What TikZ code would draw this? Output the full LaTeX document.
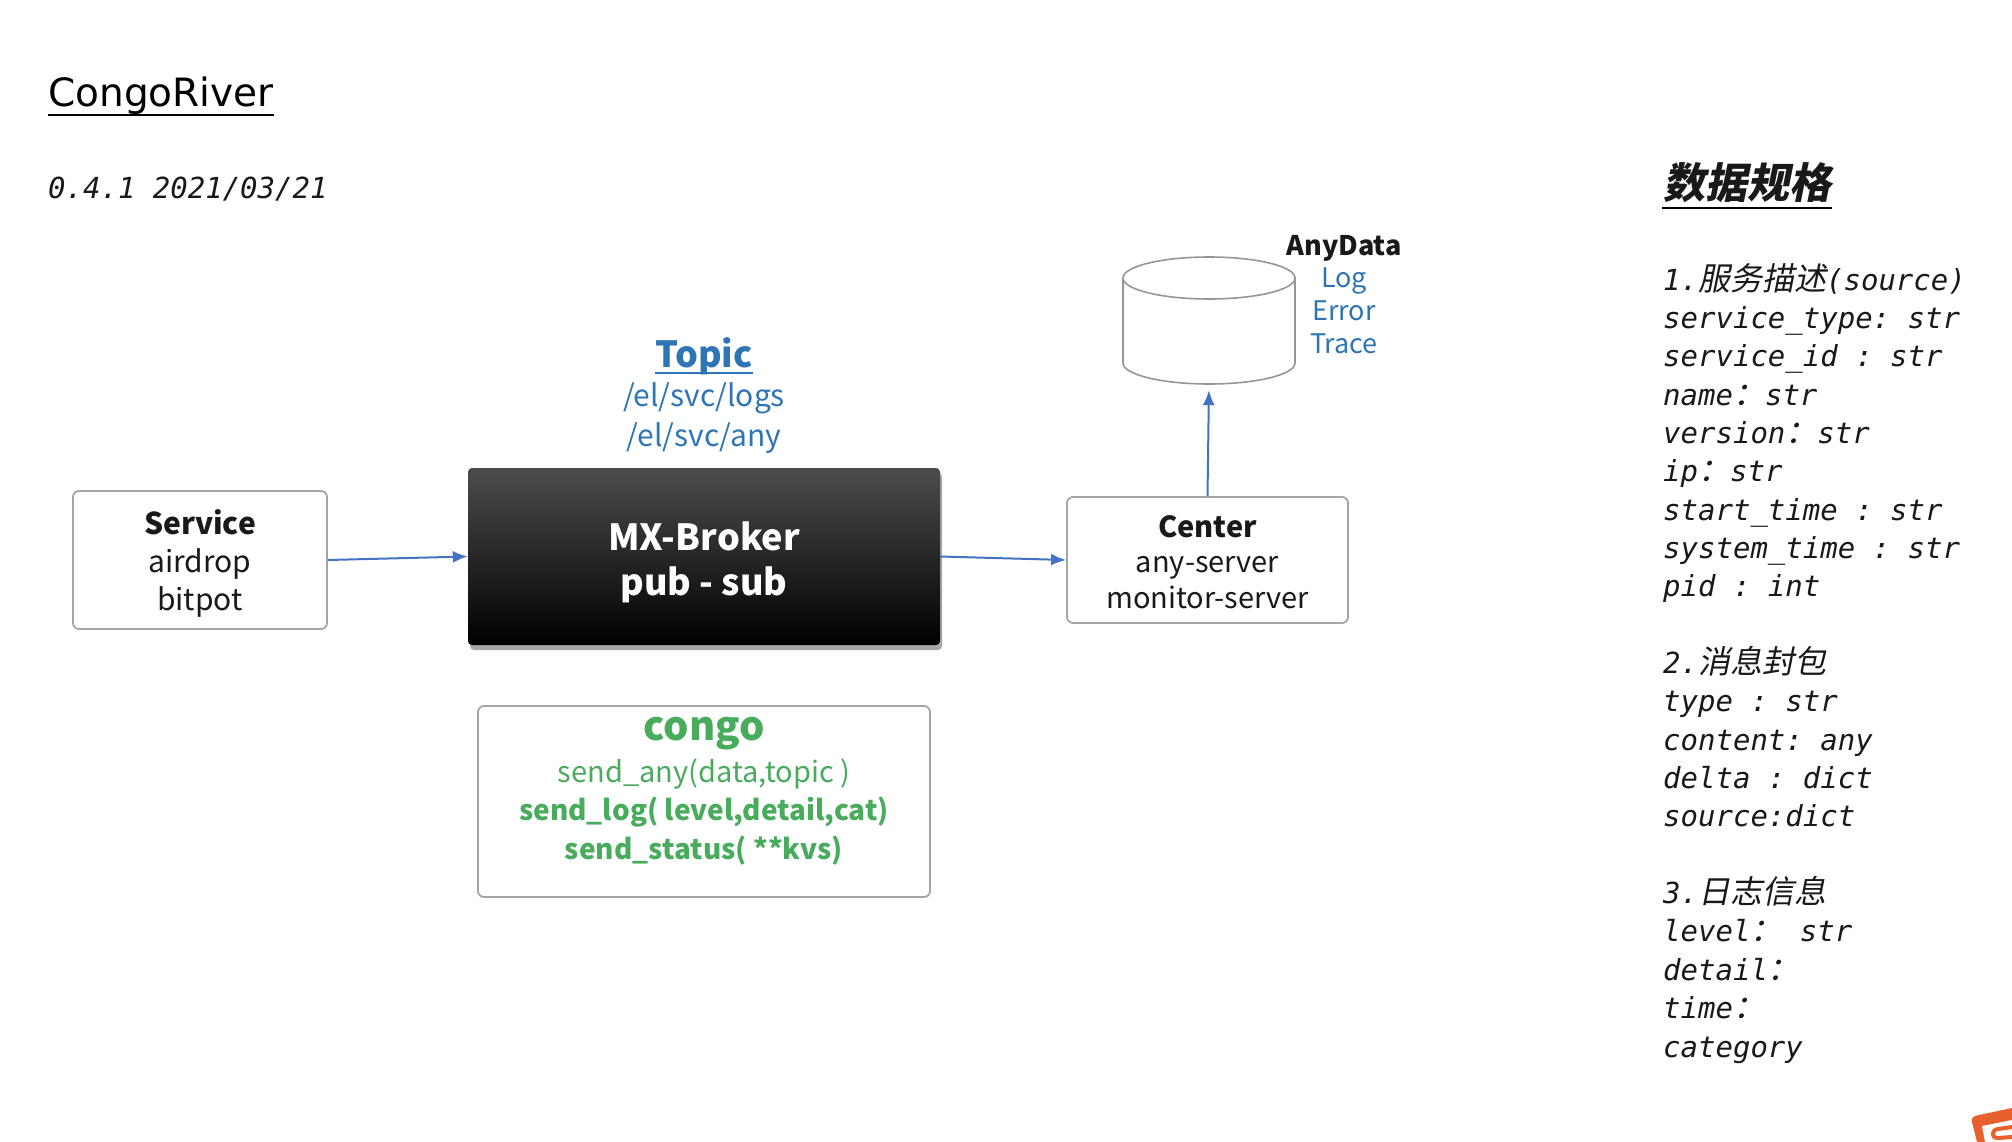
\documentclass[tikz,border=0pt]{standalone}
\usepackage{fontspec}
\setmainfont{Noto Sans CJK SC}
\setmonofont{DejaVu Sans Mono}
\newfontfamily\titlefont{DejaVu Sans}
\newfontfamily\uifont{Noto Sans CJK SC}
\newfontfamily\cjkit[FakeSlant=0.2]{Noto Sans CJK SC}
\usetikzlibrary{arrows.meta,shadows}
\definecolor{linkblue}{RGB}{68,114,196}
\definecolor{txtblue}{RGB}{46,117,182}
\definecolor{cgreen}{RGB}{72,172,92}
\definecolor{boxgray}{RGB}{165,165,165}
\definecolor{cylgray}{RGB}{150,150,150}
\definecolor{ink}{RGB}{25,25,25}
\definecolor{logoorange}{RGB}{232,96,44}
\newcommand{\zh}[1]{{\cjkit\fontsize{32}{38}\selectfont #1}}
\tikzset{
  box/.style={draw=boxgray, line width=1.8pt, rounded corners=6pt, fill=white,
    align=center, text=ink, inner sep=0},
  flow/.style={draw=linkblue, line width=2pt, -{Latex[length=15pt,width=12pt]}},
  spec/.style={anchor=base west, inner sep=0, text=ink,
    font=\ttfamily\itshape\fontsize{29}{35}\selectfont},
  lbl/.style={inner sep=0, anchor=base},
}
\begin{document}
\begin{tikzpicture}[x=1pt,y=-1pt]
\fill[white] (0,0) rectangle (2012,1142);
\useasboundingbox (0,0) rectangle (2012,1142);

% title and version
\node[anchor=base west, inner sep=0, font=\titlefont\fontsize{39}{46}\selectfont] (title) at (48,107) {CongoRiver};
\draw[line width=2pt] ([yshift=-8pt]title.base west) -- ([yshift=-8pt]title.base east);
\node[anchor=base west, inner sep=0, text=ink, font=\ttfamily\itshape\fontsize{29}{35}\selectfont] (version) at (48,198) {0.4.1 2021/03/21};

% boxes
\node[box, minimum width=254pt, minimum height=138pt] (service) at (200,560) {};
\node[align=center, text=ink, inner sep=0, font=\uifont\fontsize{30}{38}\selectfont]
  (servicetext) at (200,563) {{\bfseries Service}\\airdrop\\bitpot};
\node[draw=none, rounded corners=4pt, inner sep=0, minimum width=472pt, minimum height=177pt,
  top color=black!70, middle color=black, bottom color=black,
  drop shadow={shadow xshift=2pt, shadow yshift=-5pt, opacity=0.35, fill=black}]
  (broker) at (704,556.5) {};
\node[align=center, text=white, inner sep=0, font=\uifont\bfseries\fontsize{36}{45}\selectfont]
  (brokertext) at (704,562) {MX-Broker\\pub - sub};
\node[box, minimum width=281pt, minimum height=126pt] (center) at (1207.5,560) {};
\node[align=center, text=ink, inner sep=0, font=\uifont\fontsize{29}{35.5}\selectfont]
  (centertext) at (1207.5,562) {{\bfseries Center}\\any-server\\monitor-server};
\node[box, minimum width=452pt, minimum height=191pt] (congo) at (704,801.5) {};

% congo text
\node[lbl, text=cgreen, font=\uifont\bfseries\fontsize{40}{46}\selectfont] (congotitle) at (704,740) {congo};
\node[lbl, text=cgreen, font=\uifont\fontsize{29}{32}\selectfont] (sendany) at (704,782) {send\_any(data,topic )};
\node[lbl, text=cgreen, font=\uifont\bfseries\fontsize{28}{32}\selectfont] (sendlog) at (704,820) {send\_log( level,detail,cat)};
\node[lbl, text=cgreen, font=\uifont\bfseries\fontsize{28}{32}\selectfont] (sendstatus) at (704,859) {send\_status( **kvs)};

% topic
\node[lbl, text=txtblue, font=\uifont\bfseries\fontsize{36}{42}\selectfont] (topic) at (704,367) {Topic};
\draw[txtblue, line width=2pt] ([yshift=-6pt]topic.base west) -- ([yshift=-6pt]topic.base east);
\node[lbl, text=txtblue, font=\uifont\fontsize{30}{36}\selectfont] (topic1) at (704,406) {/el/svc/logs};
\node[lbl, text=txtblue, font=\uifont\fontsize{30}{36}\selectfont] (topic2) at (704,446) {/el/svc/any};

% database cylinder
\node[inner sep=0, minimum width=172pt, minimum height=127pt] (db) at (1209,320.5) {};
\draw[cylgray, line width=1.6pt, fill=white] (1123,278) -- (1123,363)
  arc[start angle=180, end angle=0, x radius=86, y radius=21] -- (1295,278);
\draw[cylgray, line width=1.6pt] (1209,278) ellipse [x radius=86, y radius=21];
\node[anchor=north, inner sep=0, align=center, text=txtblue, font=\uifont\fontsize{27}{32.7}\selectfont]
  (anydata) at (1344,234) {\rule{0pt}{21pt}{\color{ink}\bfseries AnyData}\\Log\\Error\\Trace};

% connectors
\draw[flow] (service.east) -- (broker.west);
\draw[flow] (broker.east) -- (center.west);
\draw[flow, shorten >=6pt] (center.north) -- (db.south);

% spec panel
\node[anchor=base west, inner sep=0, text=ink, font=\cjkit\bfseries\fontsize{42}{50}\selectfont] (spechead) at (1663,198) {数据规格};
\draw[line width=2pt] (1662,208) -- (1832,208);
\foreach \k/\t in {
  0/{1.\zh{服务描述}(source)},
  1/{service\_type: str},
  2/{service\_id : str},
  3/{name\zh{：}str},
  4/{version\zh{：}str},
  5/{ip\zh{：}str},
  6/{start\_time : str},
  7/{system\_time : str},
  8/{pid : int},
  10/{2.\zh{消息封包}},
  11/{type : str},
  12/{content: any},
  13/{delta : dict},
  14/{source:dict},
  16/{3.\zh{日志信息}},
  17/{level\zh{：} str},
  18/{detail\zh{：}},
  19/{time\zh{：}},
  20/{category}}
  \node[spec] (spec\k) at (1663,{290+38.35*\k}) {\t};

% partial logo in the corner
\fill[logoorange] (1972,1122) .. controls (1971,1117) and (1974,1116) .. (1979,1115) -- (2012,1108) -- (2012,1142) -- (1977,1142) -- cycle;
\fill[white] (1982,1126) -- (2012,1120) -- (2012,1142) -- (1985,1142) -- cycle;
\draw[logoorange, line width=4pt] (2012,1127) -- (1998,1129) .. controls (1991,1130) and (1991,1138) .. (1998,1138) -- (2012,1137);
\end{tikzpicture}
\end{document}
